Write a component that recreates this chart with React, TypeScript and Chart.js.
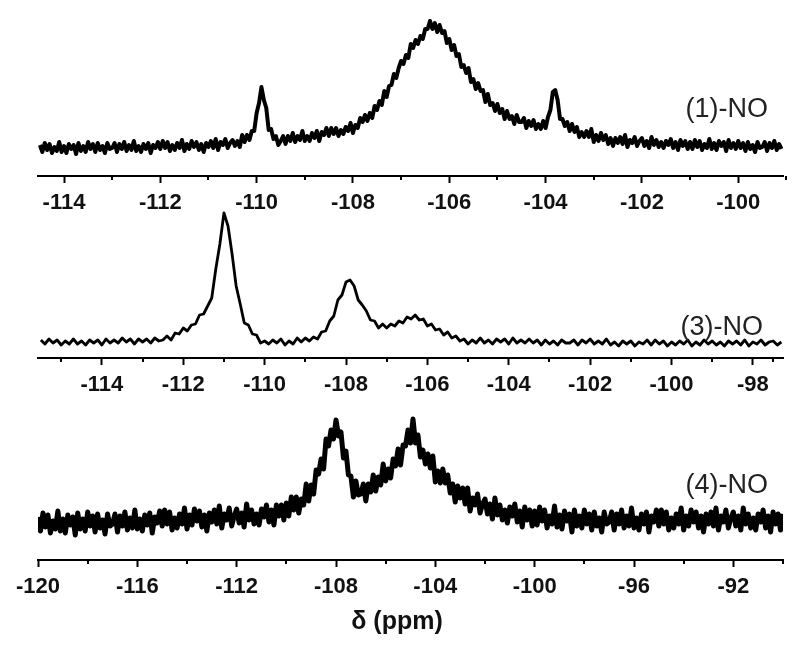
import React, { useEffect, useRef } from 'react';
import { Chart, registerables } from 'chart.js';

Chart.register(...registerables);

// ---------- Panel (1)-NO : chemical shift sampling and intensities (a.u.) ----------
const P1_START_PPM = -114.5;
const P1_STEP_PPM = 0.05;
const P1_INTENSITY = [
  3, -4, 5, -2, 4, -5, 1, -3, 6, -4,
  2, -5, 4, -1, 3, -6, 5, -3, 2, -4,
  6, -1, 4, -4, 5, -2, 2, -5, 5, -1,
  0, 5, -4, 4, -1, 6, -3, 3, -2, 7,
  -3, 2, -4, 4, -1, 5, -5, 3, 0, 6,
  -1, 7, 0, 6, -3, 3, -2, 5, 0, 8,
  -3, 4, -1, 7, 1, 6, -2, 4, -4, 5,
  1, 7, 0, 9, -2, 6, 3, 9, 0, 5,
  8, 2, 7, 1, 13, 6, 13, 8, 17, 17,
  35, 45, 61, 48, 40, 18, 19, 9, 12, 3,
  7, 12, 4, 12, 7, 15, 6, 12, 8, 17,
  7, 12, 7, 15, 10, 17, 7, 16, 13, 20,
  12, 20, 14, 20, 12, 18, 14, 21, 17, 25,
  15, 23, 20, 30, 26, 33, 27, 35, 30, 42,
  38, 47, 43, 57, 51, 62, 63, 74, 70, 80,
  87, 84, 93, 90, 104, 100, 108, 104, 112, 109,
  119, 119, 127, 119, 125, 116, 123, 115, 117, 105,
  109, 98, 103, 92, 94, 81, 83, 75, 80, 66,
  69, 59, 65, 57, 58, 46, 54, 43, 45, 37,
  44, 35, 39, 29, 37, 29, 32, 24, 33, 26,
  26, 30, 20, 27, 22, 28, 19, 24, 19, 27,
  20, 31, 38, 56, 58, 48, 29, 29, 22, 26,
  17, 24, 16, 21, 11, 16, 11, 17, 11, 19,
  6, 13, 7, 15, 8, 13, 4, 10, 2, 10,
  5, 11, 4, 13, 1, 8, 5, 11, 2, 7,
  10, 2, 7, 0, 11, 3, 8, 1, 6, 0,
  7, 3, 9, 0, 6, -2, 8, 2, 7, -1,
  6, -1, 8, 1, 7, -2, 4, 0, 9, -1,
  5, -2, 7, 2, 6, -3, 8, 0, 5, -1,
  7, 0, 5, -3, 6, -1, 3, -4, 6, 0,
  1, 6, -3, 5, 0, 7, -2, 4, -1,
];
const P1_MAJOR_TICKS = [-114, -112, -110, -108, -106, -104, -102, -100];
const P1_MINOR_TICKS = [-113, -111, -109, -107, -105, -103, -101, -99];

// ---------- Panel (3)-NO ----------
const P2_START_PPM = -115.5;
const P2_STEP_PPM = 0.1;
const P2_INTENSITY = [
  3, -1, 4, 0, 3, -2, 2, -1, 4, -1,
  2, -2, 3, 0, 3, -2, 4, 0, 3, 0,
  5, 1, 4, -1, 4, 1, 4, 0, 5, 2,
  3, 7, 3, 10, 9, 15, 12, 18, 19, 28,
  29, 37, 45, 74, 99, 130, 117, 89, 57, 39,
  20, 18, 9, 8, 0, 2, -1, 3, 0, 4,
  -2, 2, -1, 5, 1, 5, 2, 6, 4, 11,
  12, 22, 27, 43, 48, 61, 63, 57, 43, 38,
  32, 23, 22, 15, 19, 15, 19, 17, 22, 20,
  26, 24, 28, 23, 24, 17, 19, 13, 14, 8,
  11, 5, 7, 2, 4, -1, 3, 0, 5, 0,
  3, -1, 4, 1, 4, -1, 5, 0, 3, 0,
  4, 0, 3, -2, 3, -1, 2, -2, 3, 0,
  0, 3, -2, 3, 0, 4, -1, 2, -1, 4,
  -2, 1, -3, 2, -1, 2, -3, 1, -1, 3,
  -2, 3, -1, 2, -3, 1, -2, 2, -1, 3,
  -3, 1, -2, 3, -1, 2, -2, 1, -3, 2,
  -1, 2, -2, 3, -3, 1, -1, 3, -2, 1,
  2, -2, 1,
];
const P2_MAJOR_TICKS = [-114, -112, -110, -108, -106, -104, -102, -100, -98];
const P2_MINOR_TICKS = [-115, -113, -111, -109, -107, -105, -103, -101, -99, -97.5];

// ---------- Panel (4)-NO ----------
const P3_START_PPM = -120;
const P3_STEP_PPM = 0.1;
const P3_INTENSITY = [
  6, -8, 10, -4, 8, -10, 2, -6, 12, -8,
  4, -10, 8, -2, 6, -12, 10, -6, 4, -8,
  11, -3, 7, -9, 9, -5, 3, -11, 9, -3,
  -1, 9, -9, 7, -3, 11, -7, 5, -5, 13,
  -6, 4, -8, 8, -2, 10, -10, 6, 0, 12,
  -3, 13, -1, 11, -7, 5, -5, 9, -1, 15,
  -6, 8, -2, 14, 2, 12, -4, 8, -8, 10,
  1, 13, -1, 17, -5, 9, 3, 15, -3, 7,
  14, 0, 10, -4, 19, 3, 13, -1, 9, -2,
  14, 6, 18, 1, 13, -2, 18, 7, 18, 3,
  20, 7, 26, 13, 26, 10, 24, 18, 39, 22,
  38, 29, 53, 49, 64, 54, 84, 77, 93, 84,
  103, 87, 91, 65, 72, 48, 47, 26, 42, 28,
  29, 39, 22, 39, 31, 48, 32, 46, 38, 59,
  42, 54, 45, 64, 57, 74, 58, 78, 77, 93,
  80, 104, 80, 88, 66, 73, 59, 69, 55, 67,
  41, 52, 40, 54, 40, 48, 30, 39, 21, 37,
  25, 35, 19, 35, 12, 25, 18, 29, 10, 19,
  24, 9, 19, 4, 25, 8, 18, 3, 13, 0,
  16, 7, 19, 1, 12, -4, 16, 3, 13, -3,
  12, -2, 16, 2, 13, -5, 7, -1, 17, -4,
  8, -6, 12, 2, 9, -9, 13, -3, 7, -5,
  13, -1, 9, -7, 11, -3, 5, -9, 11, -1,
  1, 11, -7, 9, -1, 13, -5, 7, -3, 15,
  -5, 5, -7, 9, -1, 11, -9, 7, 1, 13,
  -3, 13, -1, 11, -7, 5, -5, 9, -1, 15,
  -7, 7, -3, 13, 1, 11, -5, 7, -9, 9,
  -1, 11, -3, 15, -7, 7, 1, 13, -5, 5,
  11, -3, 7, -7, 15, -1, 9, -5, 5, -7,
  9, 1, 13, -5, 7, -9, 11, -1, 9, -7,
  9,
];
const P3_MAJOR_TICKS = [-120, -116, -112, -108, -104, -100, -96, -92];
const P3_MINOR_TICKS = [-118, -114, -110, -106, -102, -98, -94, -90];

const SAMPLE_LABELS = ['(1)-NO', '(3)-NO', '(4)-NO'];
const AXIS_TITLE = 'δ (ppm)';

const FONT = '"Liberation Sans", Arial, Helvetica, sans-serif';

const decorPlugin = {
  id: 'decor',
  afterDraw(chart: any, _args: any, opts: any) {
    const ctx = chart.ctx;
    const xs = chart.scales.x;
    ctx.save();
    ctx.strokeStyle = '#000';
    ctx.lineWidth = 2;
    for (const v of opts.minor || []) {
      const px = Math.round(xs.getPixelForValue(v));
      ctx.beginPath();
      ctx.moveTo(px, xs.top);
      ctx.lineTo(px, xs.top + opts.minorLength);
      ctx.stroke();
    }
    for (const t of opts.texts || []) {
      ctx.font = t.font;
      ctx.fillStyle = t.color;
      ctx.textAlign = t.align;
      ctx.textBaseline = 'middle';
      ctx.fillText(t.text, t.x, t.y);
    }
    ctx.restore();
  },
};

function buildPoints(start: number, step: number, values: number[]) {
  return values.map((v, i) => ({ x: +(start + i * step).toFixed(3), y: v }));
}

type PanelProps = {
  top: number;
  height: number;
  axisY: number;
  xMin: number;
  xMax: number;
  yMin: number;
  yMax: number;
  start: number;
  step: number;
  values: number[];
  major: number[];
  minor: number[];
  lineWidth: number;
  texts: any[];
};

function Panel(p: PanelProps) {
  const ref = useRef<HTMLCanvasElement | null>(null);
  useEffect(() => {
    if (!ref.current) return;
    const scaleHeight = p.height - p.axisY;
    const chart = new Chart(ref.current, {
      type: 'line',
      data: {
        datasets: [
          {
            data: buildPoints(p.start, p.step, p.values),
            borderColor: '#000',
            borderWidth: p.lineWidth,
            borderJoinStyle: 'round',
            pointRadius: 0,
            tension: 0,
            fill: false,
          },
        ],
      },
      options: {
        animation: false,
        responsive: false,
        maintainAspectRatio: false,
        events: [],
        layout: { padding: { left: 38, right: 17, top: 0, bottom: 0 } },
        plugins: {
          legend: { display: false },
          tooltip: { enabled: false },
          decor: { minor: p.minor, minorLength: 4, texts: p.texts },
        } as any,
        scales: {
          x: {
            type: 'linear',
            position: 'bottom',
            min: p.xMin,
            max: p.xMax,
            afterBuildTicks: (s: any) => {
              s.ticks = p.major.map((v) => ({ value: v }));
            },
            afterFit: (s: any) => {
              s.height = scaleHeight;
            },
            grid: {
              display: true,
              drawOnChartArea: false,
              drawTicks: true,
              tickLength: 7,
              tickWidth: 2,
              color: '#000',
            },
            border: { display: true, color: '#000', width: 2 },
            ticks: {
              autoSkip: false,
              maxRotation: 0,
              padding: 7,
              color: '#111',
              font: { family: FONT, size: 22, weight: 'bold' },
              callback: (v: any) => String(v),
            },
          },
          y: { display: false, min: p.yMin, max: p.yMax },
        },
      } as any,
      plugins: [decorPlugin as any],
    });
    return () => chart.destroy();
  }, []);
  return (
    <canvas
      ref={ref}
      width={800}
      height={p.height}
      style={{ position: 'absolute', left: 0, top: p.top, width: 800, height: p.height }}
    />
  );
}

const labelFont = `27px ${FONT}`;

export default function App() {
  return (
    <div
      style={{
        position: 'absolute',
        left: 0,
        top: 0,
        width: 800,
        height: 651,
        background: '#fff',
        overflow: 'hidden',
      }}
    >
      <Panel
        top={0}
        height={230}
        axisY={176}
        xMin={-114.54}
        xMax={-99.07}
        yMin={-28}
        yMax={148}
        start={P1_START_PPM}
        step={P1_STEP_PPM}
        values={P1_INTENSITY}
        major={P1_MAJOR_TICKS}
        minor={P1_MINOR_TICKS}
        lineWidth={4}
        texts={[{ text: SAMPLE_LABELS[0], x: 768, y: 110, align: 'right', font: labelFont, color: '#222' }]}
      />
      <Panel
        top={190}
        height={230}
        axisY={168}
        xMin={-115.57}
        xMax={-97.26}
        yMin={-15}
        yMax={153}
        start={P2_START_PPM}
        step={P2_STEP_PPM}
        values={P2_INTENSITY}
        major={P2_MAJOR_TICKS}
        minor={P2_MINOR_TICKS}
        lineWidth={2.8}
        texts={[{ text: SAMPLE_LABELS[1], x: 763, y: 138, align: 'right', font: labelFont, color: '#222' }]}
      />
      <Panel
        top={380}
        height={271}
        axisY={180}
        xMin={-120}
        xMax={-90}
        yMin={-37}
        yMax={143}
        start={P3_START_PPM}
        step={P3_STEP_PPM}
        values={P3_INTENSITY}
        major={P3_MAJOR_TICKS}
        minor={P3_MINOR_TICKS}
        lineWidth={5}
        texts={[
          { text: SAMPLE_LABELS[2], x: 768, y: 106, align: 'right', font: labelFont, color: '#222' },
          { text: AXIS_TITLE, x: 397, y: 242, align: 'center', font: `bold 25px ${FONT}`, color: '#111' },
        ]}
      />
    </div>
  );
}
